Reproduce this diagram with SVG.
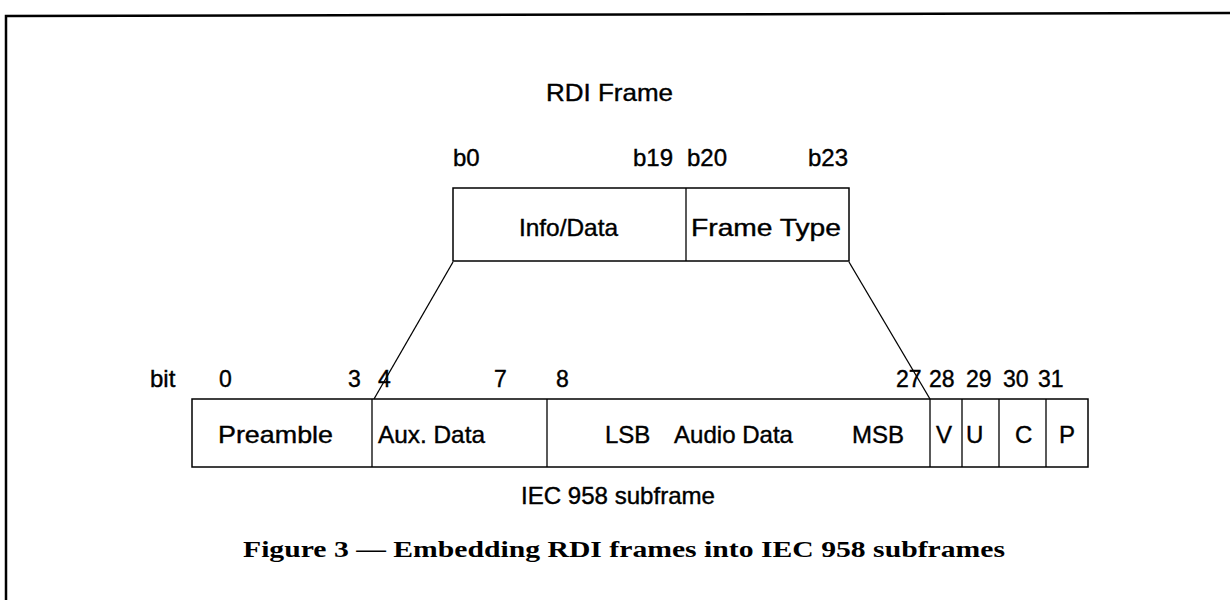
<svg xmlns="http://www.w3.org/2000/svg" width="1230" height="600" viewBox="0 0 1230 600">
<style>
.t{font-family:"Liberation Sans",Arial,sans-serif;font-size:24px;fill:#000;stroke:#000;stroke-width:0.4}
.n{font-family:"Liberation Sans",Arial,sans-serif;font-size:23px;fill:#000;stroke:#000;stroke-width:0.4}
.cap{font-family:"Liberation Serif","Times New Roman",serif;font-size:24px;font-weight:bold;fill:#000}
.box{fill:#fff;stroke:#000;stroke-width:1.5}
.ln{stroke:#000;stroke-width:1.3;fill:none}
</style>
<rect width="1230" height="600" fill="#fff"/>
<g id="border">
<path d="M6,600 V16 L1230,13" fill="none" stroke="#000" stroke-width="2.5"/>
</g>
<text class="t" x="546" y="101" textLength="127" lengthAdjust="spacingAndGlyphs">RDI Frame</text>
<g id="rdi-frame">
<rect class="box" x="453" y="188" width="396" height="73"/>
<line class="ln" x1="686" y1="188" x2="686" y2="261"/>
<text class="t" x="453" y="166">b0</text>
<text class="t" x="633" y="166">b19</text>
<text class="t" x="687" y="166">b20</text>
<text class="t" x="808" y="166">b23</text>
<text class="t" x="519" y="236" textLength="99" lengthAdjust="spacingAndGlyphs">Info/Data</text>
<text class="t" x="691" y="236" textLength="150" lengthAdjust="spacingAndGlyphs">Frame Type</text>
</g>
<g id="iec-subframe">
<rect class="box" x="192" y="399" width="896" height="68"/>
<line class="ln" x1="372" y1="399" x2="372" y2="467"/>
<line class="ln" x1="547" y1="399" x2="547" y2="467"/>
<line class="ln" x1="930" y1="399" x2="930" y2="467"/>
<line class="ln" x1="962" y1="399" x2="962" y2="467"/>
<line class="ln" x1="999" y1="399" x2="999" y2="467"/>
<line class="ln" x1="1046" y1="399" x2="1046" y2="467"/>
<text class="t" x="150" y="387">bit</text>
<text class="n" x="219" y="387">0</text>
<text class="n" x="348" y="387">3</text>
<text class="n" x="378" y="387">4</text>
<text class="n" x="494" y="387">7</text>
<text class="n" x="556" y="387">8</text>
<text class="n" x="896" y="387">27</text>
<text class="n" x="929" y="387">28</text>
<text class="n" x="966" y="387">29</text>
<text class="n" x="1003" y="387">30</text>
<text class="n" x="1038" y="387">31</text>
<text class="t" x="218" y="443" textLength="115" lengthAdjust="spacingAndGlyphs">Preamble</text>
<text class="t" x="378" y="443" textLength="107" lengthAdjust="spacingAndGlyphs">Aux. Data</text>
<text class="t" x="605" y="443">LSB</text>
<text class="t" x="674" y="443" textLength="119" lengthAdjust="spacingAndGlyphs">Audio Data</text>
<text class="t" x="852" y="443">MSB</text>
<text class="t" x="936" y="443">V</text>
<text class="t" x="966" y="443">U</text>
<text class="t" x="1015" y="443">C</text>
<text class="t" x="1059" y="443">P</text>
</g>
<g id="connectors">
<line class="ln" x1="453" y1="262" x2="374" y2="399"/>
<line class="ln" x1="849" y1="262" x2="930" y2="399"/>
</g>
<text class="t" x="521" y="504" textLength="194" lengthAdjust="spacingAndGlyphs">IEC 958 subframe</text>
<text class="cap" x="243" y="557" textLength="762" lengthAdjust="spacingAndGlyphs">Figure 3 — Embedding RDI frames into IEC 958 subframes</text>
</svg>
